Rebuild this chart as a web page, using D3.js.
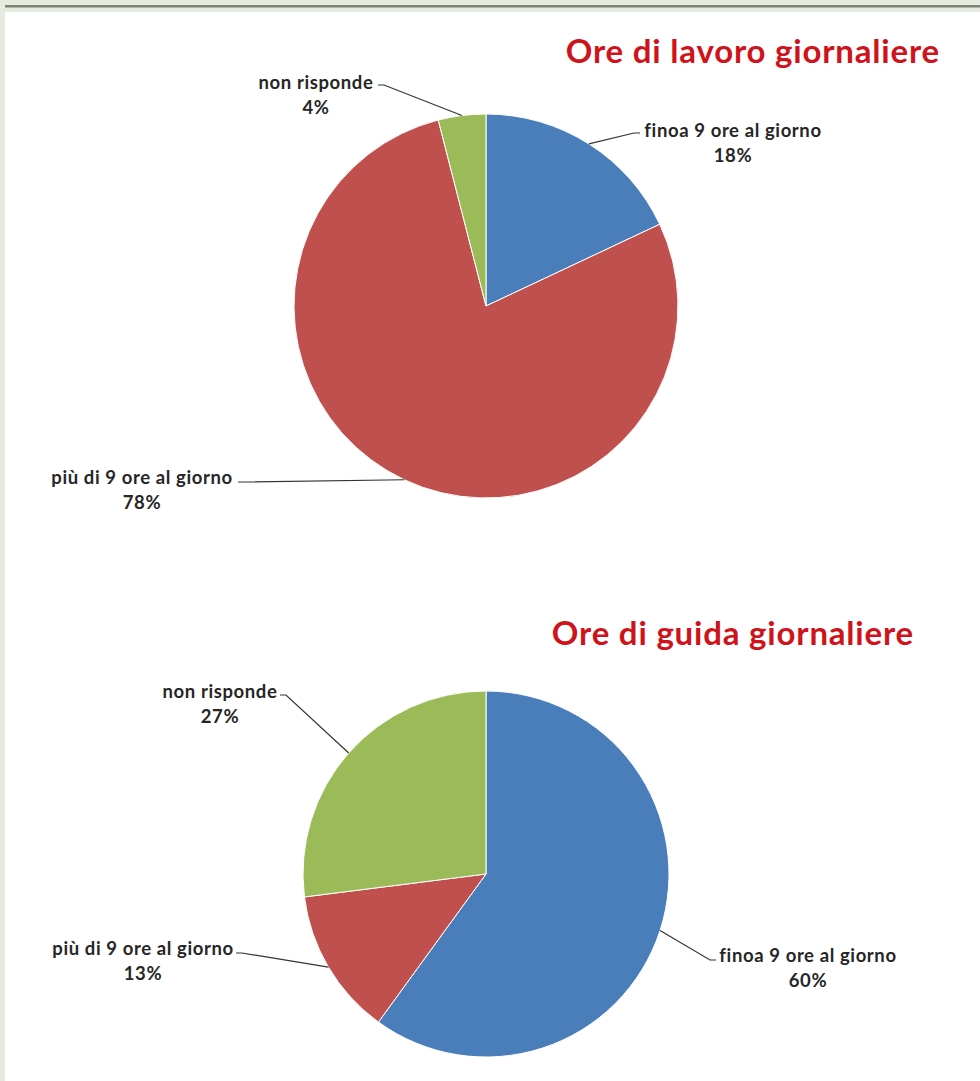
<!DOCTYPE html>
<html>
<head>
<meta charset="utf-8">
<script src="https://cdn.jsdelivr.net/npm/d3@7"></script>
<style>
html,body{margin:0;padding:0;background:#e5ecdf;}
svg{display:block;}
</style>
</head>
<body>
<svg id="chart" width="980" height="1081"></svg>
<script>
// ---- data ----
const categories = ["finoa 9 ore al giorno", "più di 9 ore al giorno", "non risponde"];
const workValues = [18, 78, 4];
const driveValues = [60, 13, 27];
const titles = ["Ore di lavoro giornaliere", "Ore di guida giornaliere"];
const colors = ["#4a7ebb", "#c0504d", "#9bbb59"];

const svg = d3.select("#chart");
// frame
svg.append("rect").attr("x",0).attr("y",0).attr("width",980).attr("height",1081).attr("fill","#e5ecdf");
svg.append("rect").attr("x",5).attr("y",5).attr("width",975).attr("height",2.5).attr("fill","#7d8378");
svg.append("rect").attr("x",5).attr("y",12).attr("width",975).attr("height",1069).attr("fill","#ffffff");

const color = d3.scaleOrdinal().domain(categories).range(colors);

const layouts = [
  {cx:486, cy:306, r:192, title:[940,63],
   labels:[ {x:733,y:137,lx:[640,133]}, {x:142,y:484,lx:[238,482]}, {x:316,y:89,lx:[378,85]} ],
   values: workValues, title_text: titles[0]},
  {cx:486, cy:874, r:183, title:[914,645],
   labels:[ {x:808,y:962,lx:[716,960]}, {x:143,y:955,lx:[236,953]}, {x:220,y:698,lx:[280,695]} ],
   values: driveValues, title_text: titles[1]}
];

const pie = d3.pie().sort(null).value(d => d.v);

layouts.forEach(L => {
  const data = categories.map((c,i)=>({c, v:L.values[i], i}));
  const arcs = pie(data);
  const g = svg.append("g").attr("transform",`translate(${L.cx},${L.cy})`);
  const arc = d3.arc().innerRadius(0).outerRadius(L.r);
  const edge = d3.arc().innerRadius(L.r).outerRadius(L.r);
  g.selectAll("path.slice").data(arcs).enter().append("path")
    .attr("class","slice")
    .attr("d",arc)
    .attr("fill",d=>color(d.data.c))
    .attr("stroke","#ffffff").attr("stroke-width",1);

  arcs.forEach((a,k) => {
    const p = edge.centroid(a);
    const lab = L.labels[k];
    const ex = lab.lx[0]-L.cx, ey = lab.lx[1]-L.cy;
    const stubX = ex + (ex < p[0] ? 6 : -6);
    svg.append("path")
      .attr("d", `M${p[0]+L.cx},${p[1]+L.cy} L${stubX+L.cx},${ey+L.cy} L${ex+L.cx},${ey+L.cy}`)
      .attr("fill","none").attr("stroke","#333").attr("stroke-width",1.2);
    const t = svg.append("text")
      .attr("x",lab.x).attr("y",lab.y)
      .attr("text-anchor","middle")
      .attr("font-family","Lato, sans-serif")
      .attr("font-weight","bold").attr("font-size",18.5)
      .attr("letter-spacing","0.6px")
      .attr("fill","#262626");
    t.append("tspan").attr("x",lab.x).attr("dy",0).text(a.data.c);
    t.append("tspan").attr("x",lab.x).attr("dy",24.5).text(a.data.v + "%");
  });

  svg.append("text")
    .attr("x",L.title[0]).attr("y",L.title[1])
    .attr("text-anchor","end")
    .attr("font-family","Lato, sans-serif")
    .attr("font-weight","bold").attr("font-size",33)
    .attr("letter-spacing","0.8px")
    .attr("fill","#d0121b")
    .text(L.title_text);
});
</script>
</body>
</html>
